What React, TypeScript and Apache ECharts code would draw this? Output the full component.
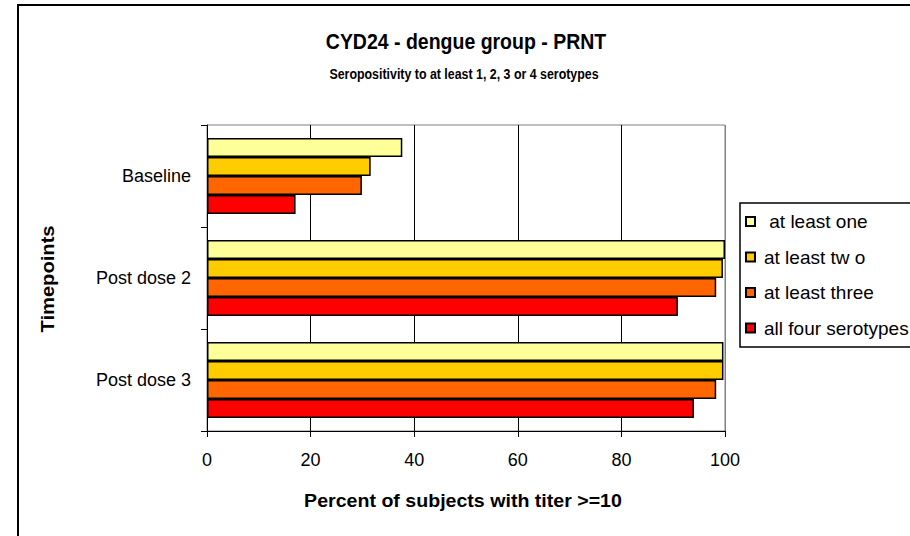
import React, { useEffect, useRef } from "react";
import * as echarts from "echarts";

const categories = ["Baseline", "Post dose 2", "Post dose 3"];
const seriesNames = [" at least one", "at least tw o", "at least three", "all four serotypes"];
const atLeastOne = [37.7, 100, 99.7];
const atLeastTwo = [31.6, 99.6, 99.7];
const atLeastThree = [29.9, 98.3, 98.3];
const allFour = [17.1, 90.9, 94.0];
const colors = ["#FFFF99", "#FFCC00", "#FF6600", "#FF0000"];
const xMin = 0;
const xMax = 100;
const xInterval = 20;

const titleText = "CYD24 - dengue group - PRNT";
const subtitleText = "Seropositivity to at least 1, 2, 3 or 4 serotypes";
const xAxisName = "Percent of subjects with titer >=10";
const yAxisName = "Timepoints";

const FONT = "'Liberation Sans', Arial, sans-serif";

export default function App() {
  const ref = useRef<HTMLDivElement>(null);
  useEffect(() => {
    if (!ref.current) return;
    const chart = echarts.init(ref.current, null, { renderer: "svg" });
    const values = [atLeastOne, atLeastTwo, atLeastThree, allFour];
    chart.setOption({
      animation: false,
      backgroundColor: "#ffffff",
      textStyle: { fontFamily: FONT, color: "#000" },
      grid: {
        left: 207,
        top: 125,
        width: 518,
        height: 306,
        show: true,
        borderColor: "#808080",
        borderWidth: 1,
        backgroundColor: "transparent",
      },
      xAxis: {
        type: "value",
        min: xMin,
        max: xMax,
        interval: xInterval,
        axisLine: { show: true, lineStyle: { color: "#000", width: 1 } },
        axisTick: { show: true, length: 6, lineStyle: { color: "#000" } },
        axisLabel: { fontSize: 18, color: "#000", margin: 20, fontFamily: FONT },
        splitLine: {
          show: true,
          lineStyle: { color: ["#000", "#000", "#000", "#000", "#000", "#808080"], width: 1 },
        },
      },
      yAxis: {
        type: "category",
        data: categories,
        inverse: true,
        axisLine: { show: true, lineStyle: { color: "#000", width: 1 } },
        axisTick: { show: true, length: 6, lineStyle: { color: "#000" } },
        axisLabel: { fontSize: 18, color: "#000", margin: 16, fontFamily: FONT },
        splitLine: { show: false },
      },
      legend: {
        orient: "vertical",
        left: 745,
        top: 211.5,
        padding: 0,
        itemGap: 15.5,
        itemWidth: 9,
        itemHeight: 9,
        icon: "rect",
        textStyle: { fontSize: 19, color: "#000", fontFamily: FONT, lineHeight: 20, padding: [0, 0, 0, 4] },
        data: seriesNames,
      },
      series: seriesNames.map((name, i) => ({
        name,
        type: "bar",
        data: values[i],
        barWidth: 19,
        barGap: "0%",
        itemStyle: { color: colors[i], borderColor: "#000", borderWidth: 1.5 },
      })),
      graphic: [
        {
          type: "rect",
          z: -10,
          shape: { x: 18, y: 5, width: 1000, height: 700 },
          style: { fill: "#fff", stroke: "#000", lineWidth: 2 },
        },
        {
          type: "rect",
          z: 0,
          shape: { x: 740, y: 203, width: 300, height: 144 },
          style: { fill: "#fff", stroke: "#000", lineWidth: 1.5 },
        },
        {
          type: "text",
          x: 466,
          y: 41,
          scaleY: 1.12,
          style: {
            text: titleText,
            fontFamily: FONT,
            fontWeight: "bold",
            fontSize: 19.5,
            fill: "#000",
            textAlign: "center",
            textVerticalAlign: "middle",
          },
        },
        {
          type: "text",
          x: 464,
          y: 73,
          scaleY: 1.25,
          style: {
            text: subtitleText,
            fontFamily: FONT,
            fontWeight: "bold",
            fontSize: 12.4,
            fill: "#000",
            textAlign: "center",
            textVerticalAlign: "middle",
          },
        },
        {
          type: "text",
          x: 463,
          y: 501,
          scaleX: 1.12,
          style: {
            text: xAxisName,
            fontFamily: FONT,
            fontWeight: "bold",
            fontSize: 17.5,
            fill: "#000",
            textAlign: "center",
            textVerticalAlign: "middle",
          },
        },
        {
          type: "text",
          x: 48,
          y: 279,
          rotation: Math.PI / 2,
          scaleX: 1.12,
          style: {
            text: yAxisName,
            fontFamily: FONT,
            fontWeight: "bold",
            fontSize: 18,
            fill: "#000",
            textAlign: "center",
            textVerticalAlign: "middle",
          },
        },
      ],
    });
    return () => chart.dispose();
  }, []);
  return (
    <div
      ref={ref}
      style={{ position: "fixed", left: 0, top: 0, width: 910, height: 536 }}
    />
  );
}
